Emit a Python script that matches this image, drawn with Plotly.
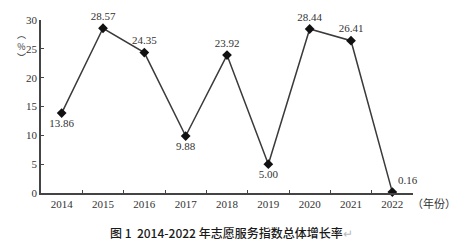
import plotly.graph_objects as go

years = ["2014", "2015", "2016", "2017", "2018", "2019", "2020", "2021", "2022"]
growth = [13.86, 28.57, 24.35, 9.88, 23.92, 5.00, 28.44, 26.41, 0.16]
labels = ["13.86", "28.57", "24.35", "9.88", "23.92", "5.00", "28.44", "26.41", "0.16"]
positions = ["bottom center", "top center", "top center", "bottom center", "top center",
             "bottom center", "top center", "top center", "top right"]
y_ticks = [0, 5, 10, 15, 20, 25, 30]

serif = "Liberation Serif, Times New Roman, serif"
cjk = "Noto Sans CJK SC, sans-serif"
ink = "#333333"

fig = go.Figure()
fig.add_trace(go.Scatter(
    x=years, y=growth, mode="lines+markers+text",
    text=labels, textposition=positions,
    textfont=dict(family=serif, size=11, color=ink),
    line=dict(color="#3a3a3a", width=1.5),
    marker=dict(symbol="diamond", size=7.5, color="#111111"),
    cliponaxis=False, showlegend=False,
))

fig.update_layout(
    width=459, height=244,
    margin=dict(l=41, r=46, t=20, b=51),
    paper_bgcolor="white", plot_bgcolor="white",
    font=dict(family=serif, size=11, color=ink),
    xaxis=dict(
        type="category", range=[-0.5, 8.5], tickson="boundaries",
        ticks="inside", ticklen=3, tickcolor="#444", tickwidth=1,
        showline=True, linecolor="#444", linewidth=1.5,
        showgrid=False, zeroline=False,
        tickfont=dict(family=serif, size=11, color=ink),
    ),
    yaxis=dict(
        range=[0, 30], tickvals=y_ticks,
        ticks="inside", ticklen=3, tickcolor="#444", tickwidth=1,
        showline=True, linecolor="#444", linewidth=1.5,
        showgrid=False, zeroline=False,
        tickfont=dict(family=serif, size=11, color=ink),
    ),
    annotations=[
        dict(text="︵<br>%<br>︶", x=15, y=26, xref="paper", yref="paper",
             showarrow=False, font=dict(family=cjk, size=9, color=ink)),
        dict(text="（年份）", x=410, y=203, xanchor="left", yanchor="middle",
             showarrow=False, font=dict(family=cjk, size=11, color=ink)),
        dict(text="图 1  2014-2022 年志愿服务指数总体增长率<span style='color:#bbbbbb'>↵</span>",
             x=231, y=232, xanchor="center", yanchor="middle",
             showarrow=False, font=dict(family=cjk, size=12, color="#1a1a1a", weight=500)),
    ],
)

# convert pixel-positioned annotations to paper coordinates
pw, ph = 459 - 41 - 46, 244 - 20 - 51
for a in fig.layout.annotations:
    px, py = a.x, a.y
    a.x = (px - 41) / pw
    a.y = (244 - 51 - py) / ph
    a.xref = "paper"; a.yref = "paper"

fig.write_html("out.html")
